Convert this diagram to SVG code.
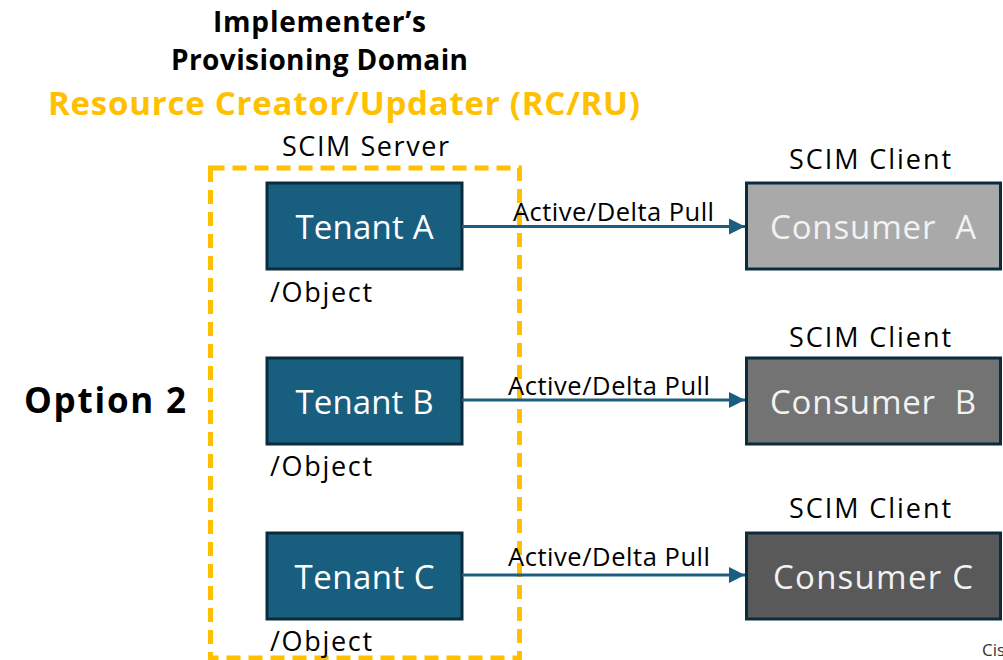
<svg xmlns="http://www.w3.org/2000/svg" width="1003" height="660" viewBox="0 0 1003 660">
  <style>
    text { font-family: "Open Sans", "Liberation Sans", sans-serif; fill: #000; }
    .title { font-weight: bold; font-size: 28px; text-anchor: middle; }
    .role { font-weight: bold; font-size: 33px; fill: #FFC000; text-anchor: middle; }
    .option { font-weight: bold; font-size: 35px; }
    .caption { font-size: 27px; text-anchor: middle; }
    .path { font-size: 27px; }
    .edge-label { font-size: 25.5px; }
    .tenant rect { fill: #185E7F; stroke: #0B2C3D; stroke-width: 3; }
    .consumer rect { stroke: #0B2C3D; stroke-width: 3; }
    .box-text { font-size: 33px; fill: #FFFFFF; text-anchor: middle; }
    .consumer .box-text { fill: #F2F2F2; }
    .boundary { fill: none; stroke: #FFC000; stroke-width: 5; stroke-dasharray: 14 8; }
    .flow { stroke: #1B5E80; stroke-width: 3; fill: none; marker-end: url(#arrow); }
    .footer { font-size: 17px; fill: #333; }
  </style>
  <defs>
    <marker id="arrow" viewBox="0 0 10 10" refX="10" refY="5" markerWidth="5.5" markerHeight="5.5" markerUnits="strokeWidth" orient="auto">
      <path d="M0,0 L10,5 L0,10 z" fill="#1B5E80"/>
    </marker>
  </defs>

  <rect width="1003" height="660" fill="#FFFFFF"/>

  <!-- Headings -->
  <g id="headings">
    <text class="title" x="319.5" y="32" textLength="213">Implementer’s</text>
    <text class="title" x="319.5" y="70" textLength="297">Provisioning Domain</text>
    <text class="role" x="344" y="115" textLength="592">Resource Creator/Updater (RC/RU)</text>
    <text class="option" x="24" y="413" textLength="162">Option 2</text>
  </g>

  <!-- SCIM server boundary -->
  <g id="scim-server">
    <rect class="boundary" x="210.5" y="168" width="309" height="490"/>
    <text class="caption" x="365.5" y="156" textLength="167">SCIM Server</text>
  </g>

  <!-- Tenants -->
  <g id="tenant-a" class="tenant">
    <rect x="267" y="183" width="195" height="86"/>
    <text class="box-text" x="364.5" y="239" textLength="138">Tenant A</text>
    <text class="path" x="270" y="302" textLength="102">/Object</text>
  </g>
  <g id="tenant-b" class="tenant">
    <rect x="267" y="358" width="195" height="86"/>
    <text class="box-text" x="364.5" y="414" textLength="138">Tenant B</text>
    <text class="path" x="270" y="476" textLength="102">/Object</text>
  </g>
  <g id="tenant-c" class="tenant">
    <rect x="267" y="533" width="195" height="86"/>
    <text class="box-text" x="364.5" y="589" textLength="140">Tenant C</text>
    <text class="path" x="270" y="651" textLength="102">/Object</text>
  </g>

  <!-- Consumers -->
  <g id="consumer-a" class="consumer">
    <text class="caption" x="870" y="169" textLength="162">SCIM Client</text>
    <rect x="746.5" y="183" width="254" height="86" fill="#A9A9A9"/>
    <text class="box-text" x="873" y="239" textLength="206" xml:space="preserve">Consumer  A</text>
  </g>
  <g id="consumer-b" class="consumer">
    <text class="caption" x="870" y="347" textLength="162">SCIM Client</text>
    <rect x="746.5" y="358" width="254" height="86" fill="#737373"/>
    <text class="box-text" x="873" y="414" textLength="206" xml:space="preserve">Consumer  B</text>
  </g>
  <g id="consumer-c" class="consumer">
    <text class="caption" x="870" y="518" textLength="162">SCIM Client</text>
    <rect x="746.5" y="533" width="254" height="86" fill="#595959"/>
    <text class="box-text" x="873" y="589" textLength="200">Consumer C</text>
  </g>

  <!-- Connectors -->
  <g id="connectors">
    <line class="flow" x1="462" y1="226.5" x2="745" y2="226.5"/>
    <text class="edge-label" x="513" y="221" textLength="201">Active/Delta Pull</text>
    <line class="flow" x1="462" y1="400" x2="745" y2="400"/>
    <text class="edge-label" x="508" y="395" textLength="202">Active/Delta Pull</text>
    <line class="flow" x1="462" y1="575" x2="745" y2="575"/>
    <text class="edge-label" x="508" y="566" textLength="202">Active/Delta Pull</text>
  </g>

  <text class="footer" x="982" y="656">Cis</text>
</svg>
